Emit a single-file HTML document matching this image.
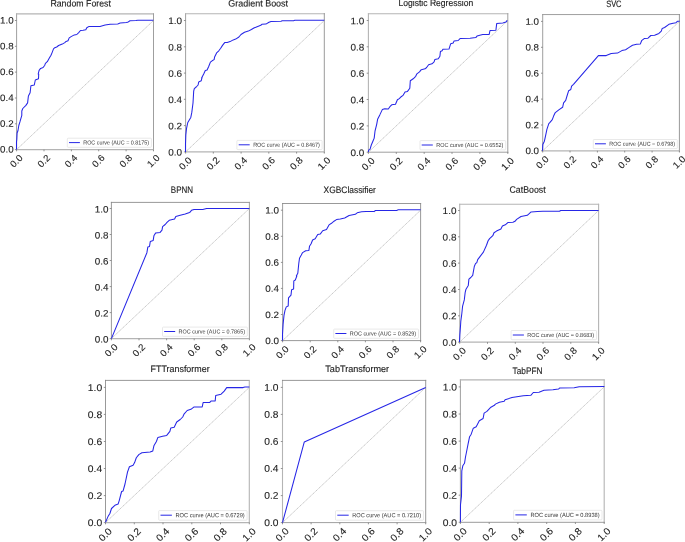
<!DOCTYPE html>
<html><head><meta charset="utf-8"><title>ROC curves</title>
<style>
html,body{margin:0;padding:0;background:#fff;}
body{width:685px;height:542px;overflow:hidden;}
svg{display:block;will-change:transform;}
text{font-family:"Liberation Sans",sans-serif;font-variant-ligatures:none;font-kerning:normal;fill:#222222;stroke:#222222;stroke-width:0.1px;}
.tt{font-size:9.30px;stroke-width:0.14px;fill:#1c1c1c;}
.lg{fill:#333;stroke:none;}
</style></head><body>
<svg width="685" height="542" viewBox="0 0 685 542" text-rendering="geometricPrecision">
<rect x="0" y="0" width="685" height="542" fill="#ffffff"/>
<g>
<text class="tt" transform="translate(50.40 6.50) rotate(0.03)" textLength="60.5" lengthAdjust="spacingAndGlyphs">Random Forest</text>
<line x1="16.6" y1="149.6" x2="153.5" y2="20.5" stroke="#8e8e8e" stroke-width="0.5" stroke-dasharray="1.5 0.5"/>
<line x1="16.60" y1="13.35" x2="16.60" y2="150.10" stroke="#9a9a9a" stroke-width="0.95"/>
<line x1="16.10" y1="13.85" x2="154.00" y2="13.85" stroke="#b4b4b4" stroke-width="1.10"/>
<line x1="153.50" y1="13.35" x2="153.50" y2="150.10" stroke="#9a9a9a" stroke-width="0.95"/>
<line x1="16.10" y1="149.60" x2="154.00" y2="149.60" stroke="#b4b4b4" stroke-width="1.10"/>
<line x1="14.9" y1="149.6" x2="16.6" y2="149.6" stroke="#7a7a7a" stroke-width="0.8"/>
<line x1="16.6" y1="149.6" x2="16.6" y2="151.3" stroke="#7a7a7a" stroke-width="0.8"/>
<text style="font-size:9.29px" transform="translate(0.11 152.58) rotate(0.03)" textLength="13.6" lengthAdjust="spacingAndGlyphs">0.0</text>
<text style="font-size:9.29px" transform="translate(16.2 160.9) rotate(-45)" x="-6.8" y="3.3" textLength="13.6" lengthAdjust="spacingAndGlyphs">0.0</text>
<line x1="14.9" y1="123.8" x2="16.6" y2="123.8" stroke="#7a7a7a" stroke-width="0.8"/>
<line x1="44.0" y1="149.6" x2="44.0" y2="151.3" stroke="#7a7a7a" stroke-width="0.8"/>
<text style="font-size:9.29px" transform="translate(0.11 126.76) rotate(0.03)" textLength="13.6" lengthAdjust="spacingAndGlyphs">0.2</text>
<text style="font-size:9.29px" transform="translate(43.6 160.9) rotate(-45)" x="-6.8" y="3.3" textLength="13.6" lengthAdjust="spacingAndGlyphs">0.2</text>
<line x1="14.9" y1="98.0" x2="16.6" y2="98.0" stroke="#7a7a7a" stroke-width="0.8"/>
<line x1="71.4" y1="149.6" x2="71.4" y2="151.3" stroke="#7a7a7a" stroke-width="0.8"/>
<text style="font-size:9.29px" transform="translate(0.11 100.94) rotate(0.03)" textLength="13.6" lengthAdjust="spacingAndGlyphs">0.4</text>
<text style="font-size:9.29px" transform="translate(71.0 160.9) rotate(-45)" x="-6.8" y="3.3" textLength="13.6" lengthAdjust="spacingAndGlyphs">0.4</text>
<line x1="14.9" y1="72.1" x2="16.6" y2="72.1" stroke="#7a7a7a" stroke-width="0.8"/>
<line x1="98.7" y1="149.6" x2="98.7" y2="151.3" stroke="#7a7a7a" stroke-width="0.8"/>
<text style="font-size:9.29px" transform="translate(0.11 75.12) rotate(0.03)" textLength="13.6" lengthAdjust="spacingAndGlyphs">0.6</text>
<text style="font-size:9.29px" transform="translate(98.3 160.9) rotate(-45)" x="-6.8" y="3.3" textLength="13.6" lengthAdjust="spacingAndGlyphs">0.6</text>
<line x1="14.9" y1="46.3" x2="16.6" y2="46.3" stroke="#7a7a7a" stroke-width="0.8"/>
<line x1="126.1" y1="149.6" x2="126.1" y2="151.3" stroke="#7a7a7a" stroke-width="0.8"/>
<text style="font-size:9.29px" transform="translate(0.11 49.30) rotate(0.03)" textLength="13.6" lengthAdjust="spacingAndGlyphs">0.8</text>
<text style="font-size:9.29px" transform="translate(125.7 160.9) rotate(-45)" x="-6.8" y="3.3" textLength="13.6" lengthAdjust="spacingAndGlyphs">0.8</text>
<line x1="14.9" y1="20.5" x2="16.6" y2="20.5" stroke="#7a7a7a" stroke-width="0.8"/>
<line x1="153.5" y1="149.6" x2="153.5" y2="151.3" stroke="#7a7a7a" stroke-width="0.8"/>
<text style="font-size:9.29px" transform="translate(0.11 23.48) rotate(0.03)" textLength="13.6" lengthAdjust="spacingAndGlyphs">1.0</text>
<text style="font-size:9.29px" transform="translate(153.1 160.9) rotate(-45)" x="-6.8" y="3.3" textLength="13.6" lengthAdjust="spacingAndGlyphs">1.0</text>
<path d="M16.5 149.6 L16.5 142.0 L16.8 139.3 L17.1 133.0 L18.0 130.5 L18.8 125.5 L20.0 121.7 L21.8 115.4 L21.8 111.0 L22.8 108.5 L25.9 105.4 L27.6 102.9 L28.4 96.0 L30.1 92.8 L30.9 85.7 L34.3 85.0 L35.3 80.0 L38.5 78.8 L38.7 74.0 L38.2 74.0 L39.1 70.3 L40.6 68.4 L43.1 67.5 L44.8 65.2 L45.4 63.4 L47.3 61.7 L49.2 58.3 L51.0 55.2 L52.3 52.1 L53.5 48.9 L54.8 47.7 L56.7 47.0 L58.6 45.5 L62.3 44.1 L64.8 42.6 L66.1 41.4 L68.0 40.8 L69.2 37.9 L71.1 36.6 L74.3 34.9 L76.8 34.5 L78.7 32.6 L80.5 30.5 L83.1 30.3 L85.8 29.8 L86.8 27.8 L88.7 26.6 L100.0 26.4 L105.1 25.1 L110.1 24.3 L117.7 24.1 L120.2 23.1 L126.5 22.6 L128.3 21.9 L130.0 20.7 L135.9 20.4 L137.8 20.2 L153.4 20.2" fill="none" stroke="#2626e6" stroke-width="1.05" stroke-linejoin="round"/>
<rect x="67.3" y="138.2" width="84.1" height="9.1" rx="0.8" fill="#ffffff" stroke="#dadada" stroke-width="0.6"/>
<line x1="69.0" y1="142.6" x2="79.9" y2="142.6" stroke="#2626e6" stroke-width="1.0"/>
<text class="lg" style="font-size:5.75px" transform="translate(83.25 144.53) rotate(0.03)" textLength="65.9" lengthAdjust="spacingAndGlyphs">ROC curve (AUC = 0.8175)</text>
</g>
<g>
<text class="tt" transform="translate(228.20 6.50) rotate(0.03)" textLength="59.9" lengthAdjust="spacingAndGlyphs">Gradient Boost</text>
<line x1="185.6" y1="151.9" x2="324.3" y2="20.5" stroke="#8e8e8e" stroke-width="0.5" stroke-dasharray="1.5 0.5"/>
<line x1="185.60" y1="13.20" x2="185.60" y2="152.40" stroke="#9a9a9a" stroke-width="0.95"/>
<line x1="185.10" y1="13.70" x2="324.80" y2="13.70" stroke="#b4b4b4" stroke-width="1.10"/>
<line x1="324.30" y1="13.20" x2="324.30" y2="152.40" stroke="#868686" stroke-width="0.85"/>
<line x1="185.10" y1="151.90" x2="324.80" y2="151.90" stroke="#b4b4b4" stroke-width="1.10"/>
<line x1="183.9" y1="151.9" x2="185.6" y2="151.9" stroke="#7a7a7a" stroke-width="0.8"/>
<line x1="185.6" y1="151.9" x2="185.6" y2="153.6" stroke="#7a7a7a" stroke-width="0.8"/>
<text style="font-size:9.42px" transform="translate(168.33 155.52) rotate(0.03)" textLength="13.8" lengthAdjust="spacingAndGlyphs">0.0</text>
<text style="font-size:9.42px" transform="translate(185.2 163.3) rotate(-45)" x="-6.9" y="3.4" textLength="13.8" lengthAdjust="spacingAndGlyphs">0.0</text>
<line x1="183.9" y1="125.6" x2="185.6" y2="125.6" stroke="#7a7a7a" stroke-width="0.8"/>
<line x1="213.3" y1="151.9" x2="213.3" y2="153.6" stroke="#7a7a7a" stroke-width="0.8"/>
<text style="font-size:9.42px" transform="translate(168.33 129.24) rotate(0.03)" textLength="13.8" lengthAdjust="spacingAndGlyphs">0.2</text>
<text style="font-size:9.42px" transform="translate(212.9 163.3) rotate(-45)" x="-6.9" y="3.4" textLength="13.8" lengthAdjust="spacingAndGlyphs">0.2</text>
<line x1="183.9" y1="99.3" x2="185.6" y2="99.3" stroke="#7a7a7a" stroke-width="0.8"/>
<line x1="241.1" y1="151.9" x2="241.1" y2="153.6" stroke="#7a7a7a" stroke-width="0.8"/>
<text style="font-size:9.42px" transform="translate(168.33 102.96) rotate(0.03)" textLength="13.8" lengthAdjust="spacingAndGlyphs">0.4</text>
<text style="font-size:9.42px" transform="translate(240.7 163.3) rotate(-45)" x="-6.9" y="3.4" textLength="13.8" lengthAdjust="spacingAndGlyphs">0.4</text>
<line x1="183.9" y1="73.1" x2="185.6" y2="73.1" stroke="#7a7a7a" stroke-width="0.8"/>
<line x1="268.8" y1="151.9" x2="268.8" y2="153.6" stroke="#7a7a7a" stroke-width="0.8"/>
<text style="font-size:9.42px" transform="translate(168.33 76.68) rotate(0.03)" textLength="13.8" lengthAdjust="spacingAndGlyphs">0.6</text>
<text style="font-size:9.42px" transform="translate(268.4 163.3) rotate(-45)" x="-6.9" y="3.4" textLength="13.8" lengthAdjust="spacingAndGlyphs">0.6</text>
<line x1="183.9" y1="46.8" x2="185.6" y2="46.8" stroke="#7a7a7a" stroke-width="0.8"/>
<line x1="296.6" y1="151.9" x2="296.6" y2="153.6" stroke="#7a7a7a" stroke-width="0.8"/>
<text style="font-size:9.42px" transform="translate(168.33 50.40) rotate(0.03)" textLength="13.8" lengthAdjust="spacingAndGlyphs">0.8</text>
<text style="font-size:9.42px" transform="translate(296.2 163.3) rotate(-45)" x="-6.9" y="3.4" textLength="13.8" lengthAdjust="spacingAndGlyphs">0.8</text>
<line x1="183.9" y1="20.5" x2="185.6" y2="20.5" stroke="#7a7a7a" stroke-width="0.8"/>
<line x1="324.3" y1="151.9" x2="324.3" y2="153.6" stroke="#7a7a7a" stroke-width="0.8"/>
<text style="font-size:9.42px" transform="translate(168.33 24.12) rotate(0.03)" textLength="13.8" lengthAdjust="spacingAndGlyphs">1.0</text>
<text style="font-size:9.42px" transform="translate(323.9 163.3) rotate(-45)" x="-6.9" y="3.4" textLength="13.8" lengthAdjust="spacingAndGlyphs">1.0</text>
<path d="M185.5 151.9 L185.5 144.0 L185.8 135.0 L186.5 128.7 L187.8 122.5 L189.3 119.9 L190.8 117.4 L191.8 112.4 L193.0 103.0 L193.7 91.1 L194.3 88.6 L196.2 87.0 L198.1 85.0 L198.7 82.0 L201.2 80.8 L202.1 77.3 L201.6 78.0 L203.7 74.0 L205.3 70.5 L207.1 70.0 L208.7 66.5 L210.4 62.1 L212.1 60.8 L214.1 59.6 L214.6 57.1 L216.6 52.9 L218.8 50.8 L220.7 48.3 L222.5 45.4 L224.7 42.6 L227.2 42.4 L230.1 41.6 L233.2 39.9 L235.7 39.1 L238.9 37.0 L241.0 34.5 L244.5 32.3 L248.3 31.1 L251.4 29.5 L253.9 28.0 L257.1 26.7 L260.8 25.3 L261.8 24.3 L265.9 24.1 L269.0 22.2 L271.0 21.4 L281.0 21.3 L282.3 20.8 L293.6 20.7 L294.8 20.2 L324.3 20.2" fill="none" stroke="#2626e6" stroke-width="1.05" stroke-linejoin="round"/>
<rect x="236.9" y="140.4" width="85.2" height="9.2" rx="0.8" fill="#ffffff" stroke="#dadada" stroke-width="0.6"/>
<line x1="238.7" y1="144.8" x2="249.7" y2="144.8" stroke="#2626e6" stroke-width="1.0"/>
<text class="lg" style="font-size:5.82px" transform="translate(253.13 146.76) rotate(0.03)" textLength="66.7" lengthAdjust="spacingAndGlyphs">ROC curve (AUC = 0.8467)</text>
</g>
<g>
<text class="tt" transform="translate(398.50 6.40) rotate(0.03)" textLength="74.7" lengthAdjust="spacingAndGlyphs">Logistic Regression</text>
<line x1="368.4" y1="152.2" x2="507.8" y2="20.5" stroke="#8e8e8e" stroke-width="0.5" stroke-dasharray="1.5 0.5"/>
<line x1="368.40" y1="13.20" x2="368.40" y2="152.70" stroke="#b4b4b4" stroke-width="1.10"/>
<line x1="367.90" y1="13.70" x2="508.30" y2="13.70" stroke="#b4b4b4" stroke-width="1.10"/>
<line x1="507.80" y1="13.20" x2="507.80" y2="152.70" stroke="#9a9a9a" stroke-width="0.95"/>
<line x1="367.90" y1="152.20" x2="508.30" y2="152.20" stroke="#9a9a9a" stroke-width="0.95"/>
<line x1="366.7" y1="152.2" x2="368.4" y2="152.2" stroke="#7a7a7a" stroke-width="0.8"/>
<line x1="368.4" y1="152.2" x2="368.4" y2="153.9" stroke="#7a7a7a" stroke-width="0.8"/>
<text style="font-size:9.46px" transform="translate(350.46 155.89) rotate(0.03)" textLength="13.8" lengthAdjust="spacingAndGlyphs">0.0</text>
<text style="font-size:9.46px" transform="translate(368.0 163.7) rotate(-45)" x="-6.9" y="3.4" textLength="13.8" lengthAdjust="spacingAndGlyphs">0.0</text>
<line x1="366.7" y1="125.9" x2="368.4" y2="125.9" stroke="#7a7a7a" stroke-width="0.8"/>
<line x1="396.3" y1="152.2" x2="396.3" y2="153.9" stroke="#7a7a7a" stroke-width="0.8"/>
<text style="font-size:9.46px" transform="translate(350.46 129.55) rotate(0.03)" textLength="13.8" lengthAdjust="spacingAndGlyphs">0.2</text>
<text style="font-size:9.46px" transform="translate(395.9 163.7) rotate(-45)" x="-6.9" y="3.4" textLength="13.8" lengthAdjust="spacingAndGlyphs">0.2</text>
<line x1="366.7" y1="99.5" x2="368.4" y2="99.5" stroke="#7a7a7a" stroke-width="0.8"/>
<line x1="424.2" y1="152.2" x2="424.2" y2="153.9" stroke="#7a7a7a" stroke-width="0.8"/>
<text style="font-size:9.46px" transform="translate(350.46 103.21) rotate(0.03)" textLength="13.8" lengthAdjust="spacingAndGlyphs">0.4</text>
<text style="font-size:9.46px" transform="translate(423.8 163.7) rotate(-45)" x="-6.9" y="3.4" textLength="13.8" lengthAdjust="spacingAndGlyphs">0.4</text>
<line x1="366.7" y1="73.2" x2="368.4" y2="73.2" stroke="#7a7a7a" stroke-width="0.8"/>
<line x1="452.0" y1="152.2" x2="452.0" y2="153.9" stroke="#7a7a7a" stroke-width="0.8"/>
<text style="font-size:9.46px" transform="translate(350.46 76.87) rotate(0.03)" textLength="13.8" lengthAdjust="spacingAndGlyphs">0.6</text>
<text style="font-size:9.46px" transform="translate(451.6 163.7) rotate(-45)" x="-6.9" y="3.4" textLength="13.8" lengthAdjust="spacingAndGlyphs">0.6</text>
<line x1="366.7" y1="46.8" x2="368.4" y2="46.8" stroke="#7a7a7a" stroke-width="0.8"/>
<line x1="479.9" y1="152.2" x2="479.9" y2="153.9" stroke="#7a7a7a" stroke-width="0.8"/>
<text style="font-size:9.46px" transform="translate(350.46 50.53) rotate(0.03)" textLength="13.8" lengthAdjust="spacingAndGlyphs">0.8</text>
<text style="font-size:9.46px" transform="translate(479.5 163.7) rotate(-45)" x="-6.9" y="3.4" textLength="13.8" lengthAdjust="spacingAndGlyphs">0.8</text>
<line x1="366.7" y1="20.5" x2="368.4" y2="20.5" stroke="#7a7a7a" stroke-width="0.8"/>
<line x1="507.8" y1="152.2" x2="507.8" y2="153.9" stroke="#7a7a7a" stroke-width="0.8"/>
<text style="font-size:9.46px" transform="translate(350.46 24.19) rotate(0.03)" textLength="13.8" lengthAdjust="spacingAndGlyphs">1.0</text>
<text style="font-size:9.46px" transform="translate(507.4 163.7) rotate(-45)" x="-6.9" y="3.4" textLength="13.8" lengthAdjust="spacingAndGlyphs">1.0</text>
<path d="M368.3 151.9 L368.8 150.0 L370.0 149.4 L371.3 145.0 L372.9 141.2 L374.2 138.1 L375.0 131.2 L376.7 124.3 L377.6 119.3 L379.8 114.9 L382.3 109.6 L384.8 108.8 L388.3 109.0 L389.9 106.7 L391.7 104.8 L395.5 104.2 L397.4 99.8 L399.3 98.6 L401.2 96.7 L403.0 95.4 L405.0 92.0 L407.5 91.4 L409.8 88.3 L410.3 80.7 L413.2 78.8 L415.7 76.3 L416.9 73.8 L419.5 71.9 L421.3 69.7 L425.1 68.8 L426.6 67.5 L428.6 64.7 L432.0 63.8 L434.1 61.9 L434.9 59.4 L438.3 58.8 L439.9 56.2 L440.4 51.6 L442.1 50.8 L442.9 49.3 L449.0 49.1 L450.7 43.7 L453.2 43.0 L454.1 40.9 L458.2 40.5 L460.3 38.4 L470.1 38.3 L475.8 37.6 L477.0 36.1 L482.7 34.6 L489.2 34.4 L490.0 30.5 L495.9 30.2 L496.7 23.6 L502.8 22.9 L505.9 22.1 L507.2 20.4" fill="none" stroke="#2626e6" stroke-width="1.05" stroke-linejoin="round"/>
<rect x="420.0" y="140.6" width="85.7" height="9.3" rx="0.8" fill="#ffffff" stroke="#dadada" stroke-width="0.6"/>
<line x1="421.7" y1="145.0" x2="432.8" y2="145.0" stroke="#2626e6" stroke-width="1.0"/>
<text class="lg" style="font-size:5.85px" transform="translate(436.27 147.03) rotate(0.03)" textLength="67.1" lengthAdjust="spacingAndGlyphs">ROC curve (AUC = 0.6552)</text>
</g>
<g>
<text class="tt" transform="translate(606.20 6.70) rotate(0.03)" textLength="15.3" lengthAdjust="spacingAndGlyphs">SVC</text>
<line x1="542.7" y1="150.8" x2="679.4" y2="21.4" stroke="#8e8e8e" stroke-width="0.5" stroke-dasharray="1.5 0.5"/>
<line x1="542.70" y1="14.05" x2="542.70" y2="151.35" stroke="#9a9a9a" stroke-width="0.95"/>
<line x1="542.20" y1="14.55" x2="679.90" y2="14.55" stroke="#9a9a9a" stroke-width="0.95"/>
<line x1="679.40" y1="14.05" x2="679.40" y2="151.35" stroke="#868686" stroke-width="0.85"/>
<line x1="542.20" y1="150.85" x2="679.90" y2="150.85" stroke="#b4b4b4" stroke-width="1.10"/>
<line x1="541.0" y1="150.8" x2="542.7" y2="150.8" stroke="#7a7a7a" stroke-width="0.8"/>
<line x1="542.7" y1="150.8" x2="542.7" y2="152.5" stroke="#7a7a7a" stroke-width="0.8"/>
<text style="font-size:9.28px" transform="translate(525.43 154.12) rotate(0.03)" textLength="13.6" lengthAdjust="spacingAndGlyphs">0.0</text>
<text style="font-size:9.28px" transform="translate(542.3 162.1) rotate(-45)" x="-6.8" y="3.3" textLength="13.6" lengthAdjust="spacingAndGlyphs">0.0</text>
<line x1="541.0" y1="125.0" x2="542.7" y2="125.0" stroke="#7a7a7a" stroke-width="0.8"/>
<line x1="570.0" y1="150.8" x2="570.0" y2="152.5" stroke="#7a7a7a" stroke-width="0.8"/>
<text style="font-size:9.28px" transform="translate(525.43 128.23) rotate(0.03)" textLength="13.6" lengthAdjust="spacingAndGlyphs">0.2</text>
<text style="font-size:9.28px" transform="translate(569.6 162.1) rotate(-45)" x="-6.8" y="3.3" textLength="13.6" lengthAdjust="spacingAndGlyphs">0.2</text>
<line x1="541.0" y1="99.1" x2="542.7" y2="99.1" stroke="#7a7a7a" stroke-width="0.8"/>
<line x1="597.4" y1="150.8" x2="597.4" y2="152.5" stroke="#7a7a7a" stroke-width="0.8"/>
<text style="font-size:9.28px" transform="translate(525.43 102.34) rotate(0.03)" textLength="13.6" lengthAdjust="spacingAndGlyphs">0.4</text>
<text style="font-size:9.28px" transform="translate(597.0 162.1) rotate(-45)" x="-6.8" y="3.3" textLength="13.6" lengthAdjust="spacingAndGlyphs">0.4</text>
<line x1="541.0" y1="73.2" x2="542.7" y2="73.2" stroke="#7a7a7a" stroke-width="0.8"/>
<line x1="624.7" y1="150.8" x2="624.7" y2="152.5" stroke="#7a7a7a" stroke-width="0.8"/>
<text style="font-size:9.28px" transform="translate(525.43 76.45) rotate(0.03)" textLength="13.6" lengthAdjust="spacingAndGlyphs">0.6</text>
<text style="font-size:9.28px" transform="translate(624.3 162.1) rotate(-45)" x="-6.8" y="3.3" textLength="13.6" lengthAdjust="spacingAndGlyphs">0.6</text>
<line x1="541.0" y1="47.3" x2="542.7" y2="47.3" stroke="#7a7a7a" stroke-width="0.8"/>
<line x1="652.1" y1="150.8" x2="652.1" y2="152.5" stroke="#7a7a7a" stroke-width="0.8"/>
<text style="font-size:9.28px" transform="translate(525.43 50.56) rotate(0.03)" textLength="13.6" lengthAdjust="spacingAndGlyphs">0.8</text>
<text style="font-size:9.28px" transform="translate(651.7 162.1) rotate(-45)" x="-6.8" y="3.3" textLength="13.6" lengthAdjust="spacingAndGlyphs">0.8</text>
<line x1="541.0" y1="21.4" x2="542.7" y2="21.4" stroke="#7a7a7a" stroke-width="0.8"/>
<line x1="679.4" y1="150.8" x2="679.4" y2="152.5" stroke="#7a7a7a" stroke-width="0.8"/>
<text style="font-size:9.28px" transform="translate(525.43 24.67) rotate(0.03)" textLength="13.6" lengthAdjust="spacingAndGlyphs">1.0</text>
<text style="font-size:9.28px" transform="translate(679.0 162.1) rotate(-45)" x="-6.8" y="3.3" textLength="13.6" lengthAdjust="spacingAndGlyphs">1.0</text>
<path d="M542.5 150.7 L542.8 144.4 L544.4 141.2 L545.6 135.6 L546.9 129.3 L548.8 123.7 L550.0 122.4 L552.3 119.6 L553.6 116.1 L555.3 112.6 L558.8 109.9 L562.6 107.3 L563.6 102.9 L565.7 100.4 L567.0 96.0 L568.6 90.8 L570.8 89.5 L571.6 86.1 L573.5 84.3 L598.4 55.6 L606.2 55.6 L611.2 53.6 L617.5 53.1 L621.9 50.6 L625.6 49.7 L628.8 47.6 L632.5 45.3 L636.6 44.2 L640.4 43.9 L641.6 40.7 L644.2 38.6 L648.0 38.2 L650.8 35.5 L654.6 35.3 L658.9 33.4 L661.3 31.2 L662.2 28.4 L664.6 27.5 L668.9 24.3 L673.1 23.2 L676.0 22.7 L677.4 21.3 L679.6 21.3" fill="none" stroke="#2626e6" stroke-width="1.05" stroke-linejoin="round"/>
<rect x="593.3" y="139.5" width="84.0" height="9.1" rx="0.8" fill="#ffffff" stroke="#dadada" stroke-width="0.6"/>
<line x1="595.0" y1="143.8" x2="605.9" y2="143.8" stroke="#2626e6" stroke-width="1.0"/>
<text class="lg" style="font-size:5.74px" transform="translate(609.25 145.78) rotate(0.03)" textLength="65.8" lengthAdjust="spacingAndGlyphs">ROC curve (AUC = 0.6798)</text>
</g>
<g>
<text class="tt" transform="translate(170.80 192.50) rotate(0.03)" textLength="22.2" lengthAdjust="spacingAndGlyphs">BPNN</text>
<line x1="111.4" y1="338.6" x2="249.4" y2="208.5" stroke="#8e8e8e" stroke-width="0.5" stroke-dasharray="1.5 0.5"/>
<line x1="111.40" y1="201.90" x2="111.40" y2="339.10" stroke="#868686" stroke-width="0.85"/>
<line x1="110.90" y1="202.40" x2="249.90" y2="202.40" stroke="#868686" stroke-width="0.85"/>
<line x1="249.40" y1="201.90" x2="249.40" y2="339.10" stroke="#9a9a9a" stroke-width="0.95"/>
<line x1="110.90" y1="338.60" x2="249.90" y2="338.60" stroke="#b4b4b4" stroke-width="1.10"/>
<line x1="109.7" y1="338.6" x2="111.4" y2="338.6" stroke="#7a7a7a" stroke-width="0.8"/>
<line x1="111.4" y1="338.6" x2="111.4" y2="340.3" stroke="#7a7a7a" stroke-width="0.8"/>
<text style="font-size:9.37px" transform="translate(94.80 342.55) rotate(0.03)" textLength="13.7" lengthAdjust="spacingAndGlyphs">0.0</text>
<text style="font-size:9.37px" transform="translate(111.0 350.0) rotate(-45)" x="-6.8" y="3.4" textLength="13.7" lengthAdjust="spacingAndGlyphs">0.0</text>
<line x1="109.7" y1="312.6" x2="111.4" y2="312.6" stroke="#7a7a7a" stroke-width="0.8"/>
<line x1="139.0" y1="338.6" x2="139.0" y2="340.3" stroke="#7a7a7a" stroke-width="0.8"/>
<text style="font-size:9.37px" transform="translate(94.80 316.53) rotate(0.03)" textLength="13.7" lengthAdjust="spacingAndGlyphs">0.2</text>
<text style="font-size:9.37px" transform="translate(138.6 350.0) rotate(-45)" x="-6.8" y="3.4" textLength="13.7" lengthAdjust="spacingAndGlyphs">0.2</text>
<line x1="109.7" y1="286.6" x2="111.4" y2="286.6" stroke="#7a7a7a" stroke-width="0.8"/>
<line x1="166.6" y1="338.6" x2="166.6" y2="340.3" stroke="#7a7a7a" stroke-width="0.8"/>
<text style="font-size:9.37px" transform="translate(94.80 290.51) rotate(0.03)" textLength="13.7" lengthAdjust="spacingAndGlyphs">0.4</text>
<text style="font-size:9.37px" transform="translate(166.2 350.0) rotate(-45)" x="-6.8" y="3.4" textLength="13.7" lengthAdjust="spacingAndGlyphs">0.4</text>
<line x1="109.7" y1="260.5" x2="111.4" y2="260.5" stroke="#7a7a7a" stroke-width="0.8"/>
<line x1="194.2" y1="338.6" x2="194.2" y2="340.3" stroke="#7a7a7a" stroke-width="0.8"/>
<text style="font-size:9.37px" transform="translate(94.80 264.49) rotate(0.03)" textLength="13.7" lengthAdjust="spacingAndGlyphs">0.6</text>
<text style="font-size:9.37px" transform="translate(193.8 350.0) rotate(-45)" x="-6.8" y="3.4" textLength="13.7" lengthAdjust="spacingAndGlyphs">0.6</text>
<line x1="109.7" y1="234.5" x2="111.4" y2="234.5" stroke="#7a7a7a" stroke-width="0.8"/>
<line x1="221.8" y1="338.6" x2="221.8" y2="340.3" stroke="#7a7a7a" stroke-width="0.8"/>
<text style="font-size:9.37px" transform="translate(94.80 238.47) rotate(0.03)" textLength="13.7" lengthAdjust="spacingAndGlyphs">0.8</text>
<text style="font-size:9.37px" transform="translate(221.4 350.0) rotate(-45)" x="-6.8" y="3.4" textLength="13.7" lengthAdjust="spacingAndGlyphs">0.8</text>
<line x1="109.7" y1="208.5" x2="111.4" y2="208.5" stroke="#7a7a7a" stroke-width="0.8"/>
<line x1="249.4" y1="338.6" x2="249.4" y2="340.3" stroke="#7a7a7a" stroke-width="0.8"/>
<text style="font-size:9.37px" transform="translate(94.80 212.45) rotate(0.03)" textLength="13.7" lengthAdjust="spacingAndGlyphs">1.0</text>
<text style="font-size:9.37px" transform="translate(249.0 350.0) rotate(-45)" x="-6.8" y="3.4" textLength="13.7" lengthAdjust="spacingAndGlyphs">1.0</text>
<path d="M111.4 338.6 L146.9 252.7 L147.8 247.1 L149.5 246.5 L150.3 241.4 L153.2 240.4 L153.9 235.8 L155.7 232.9 L160.1 232.4 L162.0 230.1 L162.6 226.6 L165.2 224.5 L167.0 222.3 L169.2 220.3 L174.6 219.1 L175.8 216.6 L180.2 215.3 L185.2 214.1 L189.6 212.6 L191.5 210.3 L194.0 209.5 L202.8 209.5 L206.6 208.5 L216.0 208.5 L249.4 208.5" fill="none" stroke="#2626e6" stroke-width="1.05" stroke-linejoin="round"/>
<rect x="162.5" y="327.1" width="84.8" height="9.2" rx="0.8" fill="#ffffff" stroke="#dadada" stroke-width="0.6"/>
<line x1="164.2" y1="331.5" x2="175.2" y2="331.5" stroke="#2626e6" stroke-width="1.0"/>
<text class="lg" style="font-size:5.79px" transform="translate(178.59 333.49) rotate(0.03)" textLength="66.4" lengthAdjust="spacingAndGlyphs">ROC curve (AUC = 0.7865)</text>
</g>
<g>
<text class="tt" transform="translate(323.60 192.50) rotate(0.03)" textLength="52.3" lengthAdjust="spacingAndGlyphs">XGBClassifier</text>
<line x1="282.6" y1="340.6" x2="420.6" y2="210.2" stroke="#8e8e8e" stroke-width="0.5" stroke-dasharray="1.5 0.5"/>
<line x1="282.60" y1="203.00" x2="282.60" y2="341.10" stroke="#9a9a9a" stroke-width="0.95"/>
<line x1="282.10" y1="203.50" x2="421.10" y2="203.50" stroke="#868686" stroke-width="0.85"/>
<line x1="420.60" y1="203.00" x2="420.60" y2="341.10" stroke="#868686" stroke-width="0.85"/>
<line x1="282.10" y1="340.60" x2="421.10" y2="340.60" stroke="#868686" stroke-width="0.85"/>
<line x1="280.9" y1="340.6" x2="282.6" y2="340.6" stroke="#7a7a7a" stroke-width="0.8"/>
<line x1="282.6" y1="340.6" x2="282.6" y2="342.3" stroke="#7a7a7a" stroke-width="0.8"/>
<text style="font-size:9.37px" transform="translate(265.30 344.00) rotate(0.03)" textLength="13.7" lengthAdjust="spacingAndGlyphs">0.0</text>
<text style="font-size:9.37px" transform="translate(282.2 352.0) rotate(-45)" x="-6.8" y="3.4" textLength="13.7" lengthAdjust="spacingAndGlyphs">0.0</text>
<line x1="280.9" y1="314.5" x2="282.6" y2="314.5" stroke="#7a7a7a" stroke-width="0.8"/>
<line x1="310.2" y1="340.6" x2="310.2" y2="342.3" stroke="#7a7a7a" stroke-width="0.8"/>
<text style="font-size:9.37px" transform="translate(265.30 317.92) rotate(0.03)" textLength="13.7" lengthAdjust="spacingAndGlyphs">0.2</text>
<text style="font-size:9.37px" transform="translate(309.8 352.0) rotate(-45)" x="-6.8" y="3.4" textLength="13.7" lengthAdjust="spacingAndGlyphs">0.2</text>
<line x1="280.9" y1="288.4" x2="282.6" y2="288.4" stroke="#7a7a7a" stroke-width="0.8"/>
<line x1="337.8" y1="340.6" x2="337.8" y2="342.3" stroke="#7a7a7a" stroke-width="0.8"/>
<text style="font-size:9.37px" transform="translate(265.30 291.84) rotate(0.03)" textLength="13.7" lengthAdjust="spacingAndGlyphs">0.4</text>
<text style="font-size:9.37px" transform="translate(337.4 352.0) rotate(-45)" x="-6.8" y="3.4" textLength="13.7" lengthAdjust="spacingAndGlyphs">0.4</text>
<line x1="280.9" y1="262.4" x2="282.6" y2="262.4" stroke="#7a7a7a" stroke-width="0.8"/>
<line x1="365.4" y1="340.6" x2="365.4" y2="342.3" stroke="#7a7a7a" stroke-width="0.8"/>
<text style="font-size:9.37px" transform="translate(265.30 265.76) rotate(0.03)" textLength="13.7" lengthAdjust="spacingAndGlyphs">0.6</text>
<text style="font-size:9.37px" transform="translate(365.0 352.0) rotate(-45)" x="-6.8" y="3.4" textLength="13.7" lengthAdjust="spacingAndGlyphs">0.6</text>
<line x1="280.9" y1="236.3" x2="282.6" y2="236.3" stroke="#7a7a7a" stroke-width="0.8"/>
<line x1="393.0" y1="340.6" x2="393.0" y2="342.3" stroke="#7a7a7a" stroke-width="0.8"/>
<text style="font-size:9.37px" transform="translate(265.30 239.68) rotate(0.03)" textLength="13.7" lengthAdjust="spacingAndGlyphs">0.8</text>
<text style="font-size:9.37px" transform="translate(392.6 352.0) rotate(-45)" x="-6.8" y="3.4" textLength="13.7" lengthAdjust="spacingAndGlyphs">0.8</text>
<line x1="280.9" y1="210.2" x2="282.6" y2="210.2" stroke="#7a7a7a" stroke-width="0.8"/>
<line x1="420.6" y1="340.6" x2="420.6" y2="342.3" stroke="#7a7a7a" stroke-width="0.8"/>
<text style="font-size:9.37px" transform="translate(265.30 213.60) rotate(0.03)" textLength="13.7" lengthAdjust="spacingAndGlyphs">1.0</text>
<text style="font-size:9.37px" transform="translate(420.2 352.0) rotate(-45)" x="-6.8" y="3.4" textLength="13.7" lengthAdjust="spacingAndGlyphs">1.0</text>
<path d="M282.5 340.5 L282.5 334.3 L283.1 324.2 L284.0 315.4 L285.0 310.4 L286.3 306.9 L288.2 306.0 L288.5 297.9 L291.0 295.1 L291.6 289.7 L293.6 289.1 L293.8 280.9 L295.3 280.0 L296.9 275.9 L296.3 276.0 L297.8 273.3 L298.8 263.2 L299.5 258.2 L301.3 255.1 L302.6 252.6 L305.7 250.7 L308.9 250.4 L309.5 246.3 L311.1 243.8 L312.6 240.0 L315.2 238.8 L317.7 234.6 L320.2 234.1 L322.7 230.8 L326.5 229.6 L329.0 224.9 L331.5 223.3 L334.0 221.2 L336.5 219.6 L340.3 219.0 L344.7 218.0 L349.1 215.5 L355.3 214.3 L357.2 212.8 L361.6 211.8 L366.0 211.5 L374.1 211.6 L375.4 210.5 L396.7 210.4 L398.2 209.8 L420.6 209.8" fill="none" stroke="#2626e6" stroke-width="1.05" stroke-linejoin="round"/>
<rect x="333.7" y="329.1" width="84.8" height="9.2" rx="0.8" fill="#ffffff" stroke="#dadada" stroke-width="0.6"/>
<line x1="335.4" y1="333.5" x2="346.4" y2="333.5" stroke="#2626e6" stroke-width="1.0"/>
<text class="lg" style="font-size:5.79px" transform="translate(349.79 335.49) rotate(0.03)" textLength="66.4" lengthAdjust="spacingAndGlyphs">ROC curve (AUC = 0.8529)</text>
</g>
<g>
<text class="tt" transform="translate(509.50 192.80) rotate(0.03)" textLength="36.1" lengthAdjust="spacingAndGlyphs">CatBoost</text>
<line x1="459.7" y1="342.1" x2="598.6" y2="210.5" stroke="#8e8e8e" stroke-width="0.5" stroke-dasharray="1.5 0.5"/>
<line x1="459.70" y1="203.80" x2="459.70" y2="342.60" stroke="#b4b4b4" stroke-width="1.10"/>
<line x1="459.20" y1="204.30" x2="599.10" y2="204.30" stroke="#b4b4b4" stroke-width="1.10"/>
<line x1="598.60" y1="203.80" x2="598.60" y2="342.60" stroke="#b4b4b4" stroke-width="1.10"/>
<line x1="459.20" y1="342.10" x2="599.10" y2="342.10" stroke="#b4b4b4" stroke-width="1.10"/>
<line x1="458.0" y1="342.1" x2="459.7" y2="342.1" stroke="#7a7a7a" stroke-width="0.8"/>
<line x1="459.7" y1="342.1" x2="459.7" y2="343.8" stroke="#7a7a7a" stroke-width="0.8"/>
<text style="font-size:9.43px" transform="translate(442.61 345.68) rotate(0.03)" textLength="13.8" lengthAdjust="spacingAndGlyphs">0.0</text>
<text style="font-size:9.43px" transform="translate(459.3 353.6) rotate(-45)" x="-6.9" y="3.4" textLength="13.8" lengthAdjust="spacingAndGlyphs">0.0</text>
<line x1="458.0" y1="315.8" x2="459.7" y2="315.8" stroke="#7a7a7a" stroke-width="0.8"/>
<line x1="487.5" y1="342.1" x2="487.5" y2="343.8" stroke="#7a7a7a" stroke-width="0.8"/>
<text style="font-size:9.43px" transform="translate(442.61 319.36) rotate(0.03)" textLength="13.8" lengthAdjust="spacingAndGlyphs">0.2</text>
<text style="font-size:9.43px" transform="translate(487.1 353.6) rotate(-45)" x="-6.9" y="3.4" textLength="13.8" lengthAdjust="spacingAndGlyphs">0.2</text>
<line x1="458.0" y1="289.5" x2="459.7" y2="289.5" stroke="#7a7a7a" stroke-width="0.8"/>
<line x1="515.3" y1="342.1" x2="515.3" y2="343.8" stroke="#7a7a7a" stroke-width="0.8"/>
<text style="font-size:9.43px" transform="translate(442.61 293.04) rotate(0.03)" textLength="13.8" lengthAdjust="spacingAndGlyphs">0.4</text>
<text style="font-size:9.43px" transform="translate(514.9 353.6) rotate(-45)" x="-6.9" y="3.4" textLength="13.8" lengthAdjust="spacingAndGlyphs">0.4</text>
<line x1="458.0" y1="263.1" x2="459.7" y2="263.1" stroke="#7a7a7a" stroke-width="0.8"/>
<line x1="543.0" y1="342.1" x2="543.0" y2="343.8" stroke="#7a7a7a" stroke-width="0.8"/>
<text style="font-size:9.43px" transform="translate(442.61 266.72) rotate(0.03)" textLength="13.8" lengthAdjust="spacingAndGlyphs">0.6</text>
<text style="font-size:9.43px" transform="translate(542.6 353.6) rotate(-45)" x="-6.9" y="3.4" textLength="13.8" lengthAdjust="spacingAndGlyphs">0.6</text>
<line x1="458.0" y1="236.8" x2="459.7" y2="236.8" stroke="#7a7a7a" stroke-width="0.8"/>
<line x1="570.8" y1="342.1" x2="570.8" y2="343.8" stroke="#7a7a7a" stroke-width="0.8"/>
<text style="font-size:9.43px" transform="translate(442.61 240.40) rotate(0.03)" textLength="13.8" lengthAdjust="spacingAndGlyphs">0.8</text>
<text style="font-size:9.43px" transform="translate(570.4 353.6) rotate(-45)" x="-6.9" y="3.4" textLength="13.8" lengthAdjust="spacingAndGlyphs">0.8</text>
<line x1="458.0" y1="210.5" x2="459.7" y2="210.5" stroke="#7a7a7a" stroke-width="0.8"/>
<line x1="598.6" y1="342.1" x2="598.6" y2="343.8" stroke="#7a7a7a" stroke-width="0.8"/>
<text style="font-size:9.43px" transform="translate(442.61 214.08) rotate(0.03)" textLength="13.8" lengthAdjust="spacingAndGlyphs">1.0</text>
<text style="font-size:9.43px" transform="translate(598.2 353.6) rotate(-45)" x="-6.9" y="3.4" textLength="13.8" lengthAdjust="spacingAndGlyphs">1.0</text>
<path d="M459.5 341.9 L459.8 335.0 L460.5 326.2 L460.8 321.2 L461.8 313.7 L462.6 306.1 L464.3 299.9 L465.2 292.3 L466.0 289.2 L468.3 285.4 L468.9 279.1 L470.8 277.5 L472.7 275.3 L474.3 266.5 L475.6 263.4 L476.8 262.7 L477.7 259.6 L479.6 257.1 L483.4 252.1 L486.5 245.2 L488.1 240.8 L489.6 238.6 L492.8 235.7 L494.0 232.8 L496.5 231.1 L500.9 229.1 L502.4 226.1 L505.3 224.8 L507.8 222.6 L512.9 222.3 L515.0 221.3 L516.6 219.4 L521.0 216.5 L527.3 215.3 L531.1 211.9 L537.4 211.5 L543.0 211.3 L559.5 211.3 L560.7 210.5 L598.6 210.5" fill="none" stroke="#2626e6" stroke-width="1.05" stroke-linejoin="round"/>
<rect x="511.1" y="330.5" width="85.4" height="9.2" rx="0.8" fill="#ffffff" stroke="#dadada" stroke-width="0.6"/>
<line x1="512.8" y1="335.0" x2="523.9" y2="335.0" stroke="#2626e6" stroke-width="1.0"/>
<text class="lg" style="font-size:5.83px" transform="translate(527.33 336.95) rotate(0.03)" textLength="66.8" lengthAdjust="spacingAndGlyphs">ROC curve (AUC = 0.8683)</text>
</g>
<g>
<text class="tt" transform="translate(150.60 372.00) rotate(0.03)" textLength="59.0" lengthAdjust="spacingAndGlyphs">FTTransformer</text>
<line x1="105.5" y1="522.6" x2="249.3" y2="387.4" stroke="#8e8e8e" stroke-width="0.5" stroke-dasharray="1.5 0.5"/>
<line x1="105.50" y1="379.90" x2="105.50" y2="523.10" stroke="#868686" stroke-width="0.85"/>
<line x1="105.00" y1="380.40" x2="249.80" y2="380.40" stroke="#868686" stroke-width="0.85"/>
<line x1="249.30" y1="379.90" x2="249.30" y2="523.10" stroke="#b4b4b4" stroke-width="1.10"/>
<line x1="105.00" y1="522.60" x2="249.80" y2="522.60" stroke="#b4b4b4" stroke-width="1.10"/>
<line x1="103.8" y1="522.6" x2="105.5" y2="522.6" stroke="#7a7a7a" stroke-width="0.8"/>
<line x1="105.5" y1="522.6" x2="105.5" y2="524.3" stroke="#7a7a7a" stroke-width="0.8"/>
<text style="font-size:9.76px" transform="translate(87.82 526.09) rotate(0.03)" textLength="14.3" lengthAdjust="spacingAndGlyphs">0.0</text>
<text style="font-size:9.76px" transform="translate(105.1 534.5) rotate(-45)" x="-7.1" y="3.5" textLength="14.3" lengthAdjust="spacingAndGlyphs">0.0</text>
<line x1="103.8" y1="495.6" x2="105.5" y2="495.6" stroke="#7a7a7a" stroke-width="0.8"/>
<line x1="134.3" y1="522.6" x2="134.3" y2="524.3" stroke="#7a7a7a" stroke-width="0.8"/>
<text style="font-size:9.76px" transform="translate(87.82 499.05) rotate(0.03)" textLength="14.3" lengthAdjust="spacingAndGlyphs">0.2</text>
<text style="font-size:9.76px" transform="translate(133.9 534.5) rotate(-45)" x="-7.1" y="3.5" textLength="14.3" lengthAdjust="spacingAndGlyphs">0.2</text>
<line x1="103.8" y1="468.5" x2="105.5" y2="468.5" stroke="#7a7a7a" stroke-width="0.8"/>
<line x1="163.0" y1="522.6" x2="163.0" y2="524.3" stroke="#7a7a7a" stroke-width="0.8"/>
<text style="font-size:9.76px" transform="translate(87.82 472.01) rotate(0.03)" textLength="14.3" lengthAdjust="spacingAndGlyphs">0.4</text>
<text style="font-size:9.76px" transform="translate(162.6 534.5) rotate(-45)" x="-7.1" y="3.5" textLength="14.3" lengthAdjust="spacingAndGlyphs">0.4</text>
<line x1="103.8" y1="441.5" x2="105.5" y2="441.5" stroke="#7a7a7a" stroke-width="0.8"/>
<line x1="191.8" y1="522.6" x2="191.8" y2="524.3" stroke="#7a7a7a" stroke-width="0.8"/>
<text style="font-size:9.76px" transform="translate(87.82 444.97) rotate(0.03)" textLength="14.3" lengthAdjust="spacingAndGlyphs">0.6</text>
<text style="font-size:9.76px" transform="translate(191.4 534.5) rotate(-45)" x="-7.1" y="3.5" textLength="14.3" lengthAdjust="spacingAndGlyphs">0.6</text>
<line x1="103.8" y1="414.4" x2="105.5" y2="414.4" stroke="#7a7a7a" stroke-width="0.8"/>
<line x1="220.5" y1="522.6" x2="220.5" y2="524.3" stroke="#7a7a7a" stroke-width="0.8"/>
<text style="font-size:9.76px" transform="translate(87.82 417.93) rotate(0.03)" textLength="14.3" lengthAdjust="spacingAndGlyphs">0.8</text>
<text style="font-size:9.76px" transform="translate(220.1 534.5) rotate(-45)" x="-7.1" y="3.5" textLength="14.3" lengthAdjust="spacingAndGlyphs">0.8</text>
<line x1="103.8" y1="387.4" x2="105.5" y2="387.4" stroke="#7a7a7a" stroke-width="0.8"/>
<line x1="249.3" y1="522.6" x2="249.3" y2="524.3" stroke="#7a7a7a" stroke-width="0.8"/>
<text style="font-size:9.76px" transform="translate(87.82 390.89) rotate(0.03)" textLength="14.3" lengthAdjust="spacingAndGlyphs">1.0</text>
<text style="font-size:9.76px" transform="translate(248.9 534.5) rotate(-45)" x="-7.1" y="3.5" textLength="14.3" lengthAdjust="spacingAndGlyphs">1.0</text>
<path d="M105.5 522.3 L108.0 516.6 L109.9 513.5 L111.5 508.5 L114.9 505.3 L118.1 504.1 L119.3 500.3 L121.6 491.5 L123.1 490.9 L125.0 484.0 L127.5 472.1 L129.4 466.8 L133.1 465.2 L134.6 462.6 L136.3 457.8 L138.8 454.6 L141.9 452.8 L150.1 452.1 L152.8 450.9 L153.9 445.8 L156.4 441.5 L157.9 437.4 L162.6 436.2 L166.7 435.4 L169.9 431.4 L170.8 427.9 L174.2 427.3 L176.7 422.0 L180.2 419.5 L182.7 417.0 L184.2 413.8 L187.2 410.5 L190.9 409.3 L193.8 407.1 L202.2 407.0 L203.1 402.6 L209.8 402.4 L211.0 401.1 L215.2 400.9 L215.7 395.5 L221.1 394.2 L224.2 391.1 L226.7 387.6 L243.1 387.6 L244.9 387.0 L249.3 387.0" fill="none" stroke="#2626e6" stroke-width="1.05" stroke-linejoin="round"/>
<rect x="158.7" y="510.6" width="88.4" height="9.6" rx="0.8" fill="#ffffff" stroke="#dadada" stroke-width="0.6"/>
<line x1="160.5" y1="515.2" x2="171.9" y2="515.2" stroke="#2626e6" stroke-width="1.0"/>
<text class="lg" style="font-size:6.04px" transform="translate(175.51 517.27) rotate(0.03)" textLength="69.2" lengthAdjust="spacingAndGlyphs">ROC curve (AUC = 0.6729)</text>
</g>
<g>
<text class="tt" transform="translate(325.30 372.00) rotate(0.03)" textLength="63.8" lengthAdjust="spacingAndGlyphs">TabTransformer</text>
<line x1="282.5" y1="522.6" x2="425.7" y2="387.4" stroke="#8e8e8e" stroke-width="0.5" stroke-dasharray="1.5 0.5"/>
<line x1="282.50" y1="379.90" x2="282.50" y2="523.10" stroke="#b4b4b4" stroke-width="1.10"/>
<line x1="282.00" y1="380.40" x2="426.20" y2="380.40" stroke="#868686" stroke-width="0.85"/>
<line x1="425.70" y1="379.90" x2="425.70" y2="523.10" stroke="#868686" stroke-width="0.85"/>
<line x1="282.00" y1="522.60" x2="426.20" y2="522.60" stroke="#9a9a9a" stroke-width="0.95"/>
<line x1="280.8" y1="522.6" x2="282.5" y2="522.6" stroke="#7a7a7a" stroke-width="0.8"/>
<line x1="282.5" y1="522.6" x2="282.5" y2="524.3" stroke="#7a7a7a" stroke-width="0.8"/>
<text style="font-size:9.72px" transform="translate(264.28 525.88) rotate(0.03)" textLength="14.2" lengthAdjust="spacingAndGlyphs">0.0</text>
<text style="font-size:9.72px" transform="translate(282.1 534.4) rotate(-45)" x="-7.1" y="3.5" textLength="14.2" lengthAdjust="spacingAndGlyphs">0.0</text>
<line x1="280.8" y1="495.6" x2="282.5" y2="495.6" stroke="#7a7a7a" stroke-width="0.8"/>
<line x1="311.1" y1="522.6" x2="311.1" y2="524.3" stroke="#7a7a7a" stroke-width="0.8"/>
<text style="font-size:9.72px" transform="translate(264.28 498.84) rotate(0.03)" textLength="14.2" lengthAdjust="spacingAndGlyphs">0.2</text>
<text style="font-size:9.72px" transform="translate(310.7 534.4) rotate(-45)" x="-7.1" y="3.5" textLength="14.2" lengthAdjust="spacingAndGlyphs">0.2</text>
<line x1="280.8" y1="468.5" x2="282.5" y2="468.5" stroke="#7a7a7a" stroke-width="0.8"/>
<line x1="339.8" y1="522.6" x2="339.8" y2="524.3" stroke="#7a7a7a" stroke-width="0.8"/>
<text style="font-size:9.72px" transform="translate(264.28 471.80) rotate(0.03)" textLength="14.2" lengthAdjust="spacingAndGlyphs">0.4</text>
<text style="font-size:9.72px" transform="translate(339.4 534.4) rotate(-45)" x="-7.1" y="3.5" textLength="14.2" lengthAdjust="spacingAndGlyphs">0.4</text>
<line x1="280.8" y1="441.5" x2="282.5" y2="441.5" stroke="#7a7a7a" stroke-width="0.8"/>
<line x1="368.4" y1="522.6" x2="368.4" y2="524.3" stroke="#7a7a7a" stroke-width="0.8"/>
<text style="font-size:9.72px" transform="translate(264.28 444.76) rotate(0.03)" textLength="14.2" lengthAdjust="spacingAndGlyphs">0.6</text>
<text style="font-size:9.72px" transform="translate(368.0 534.4) rotate(-45)" x="-7.1" y="3.5" textLength="14.2" lengthAdjust="spacingAndGlyphs">0.6</text>
<line x1="280.8" y1="414.4" x2="282.5" y2="414.4" stroke="#7a7a7a" stroke-width="0.8"/>
<line x1="397.1" y1="522.6" x2="397.1" y2="524.3" stroke="#7a7a7a" stroke-width="0.8"/>
<text style="font-size:9.72px" transform="translate(264.28 417.72) rotate(0.03)" textLength="14.2" lengthAdjust="spacingAndGlyphs">0.8</text>
<text style="font-size:9.72px" transform="translate(396.7 534.4) rotate(-45)" x="-7.1" y="3.5" textLength="14.2" lengthAdjust="spacingAndGlyphs">0.8</text>
<line x1="280.8" y1="387.4" x2="282.5" y2="387.4" stroke="#7a7a7a" stroke-width="0.8"/>
<line x1="425.7" y1="522.6" x2="425.7" y2="524.3" stroke="#7a7a7a" stroke-width="0.8"/>
<text style="font-size:9.72px" transform="translate(264.28 390.68) rotate(0.03)" textLength="14.2" lengthAdjust="spacingAndGlyphs">1.0</text>
<text style="font-size:9.72px" transform="translate(425.3 534.4) rotate(-45)" x="-7.1" y="3.5" textLength="14.2" lengthAdjust="spacingAndGlyphs">1.0</text>
<path d="M282.5 522.6 L304.3 441.9 L425.7 387.4" fill="none" stroke="#2626e6" stroke-width="1.05" stroke-linejoin="round"/>
<rect x="335.5" y="510.7" width="88.0" height="9.5" rx="0.8" fill="#ffffff" stroke="#dadada" stroke-width="0.6"/>
<line x1="337.3" y1="515.2" x2="348.7" y2="515.2" stroke="#2626e6" stroke-width="1.0"/>
<text class="lg" style="font-size:6.01px" transform="translate(352.22 517.29) rotate(0.03)" textLength="68.9" lengthAdjust="spacingAndGlyphs">ROC curve (AUC = 0.7210)</text>
</g>
<g>
<text class="tt" transform="translate(512.60 373.70) rotate(0.03)" textLength="29.9" lengthAdjust="spacingAndGlyphs">TabPFN</text>
<line x1="460.4" y1="522.3" x2="604.2" y2="386.9" stroke="#8e8e8e" stroke-width="0.5" stroke-dasharray="1.5 0.5"/>
<line x1="460.40" y1="379.40" x2="460.40" y2="522.80" stroke="#9a9a9a" stroke-width="0.95"/>
<line x1="459.90" y1="379.90" x2="604.70" y2="379.90" stroke="#b4b4b4" stroke-width="1.10"/>
<line x1="604.20" y1="379.40" x2="604.20" y2="522.80" stroke="#b4b4b4" stroke-width="1.10"/>
<line x1="459.90" y1="522.30" x2="604.70" y2="522.30" stroke="#868686" stroke-width="0.85"/>
<line x1="458.7" y1="522.3" x2="460.4" y2="522.3" stroke="#7a7a7a" stroke-width="0.8"/>
<line x1="460.4" y1="522.3" x2="460.4" y2="524.0" stroke="#7a7a7a" stroke-width="0.8"/>
<text style="font-size:9.76px" transform="translate(442.72 525.94) rotate(0.03)" textLength="14.3" lengthAdjust="spacingAndGlyphs">0.0</text>
<text style="font-size:9.76px" transform="translate(460.0 534.2) rotate(-45)" x="-7.1" y="3.5" textLength="14.3" lengthAdjust="spacingAndGlyphs">0.0</text>
<line x1="458.7" y1="495.2" x2="460.4" y2="495.2" stroke="#7a7a7a" stroke-width="0.8"/>
<line x1="489.2" y1="522.3" x2="489.2" y2="524.0" stroke="#7a7a7a" stroke-width="0.8"/>
<text style="font-size:9.76px" transform="translate(442.72 498.86) rotate(0.03)" textLength="14.3" lengthAdjust="spacingAndGlyphs">0.2</text>
<text style="font-size:9.76px" transform="translate(488.8 534.2) rotate(-45)" x="-7.1" y="3.5" textLength="14.3" lengthAdjust="spacingAndGlyphs">0.2</text>
<line x1="458.7" y1="468.1" x2="460.4" y2="468.1" stroke="#7a7a7a" stroke-width="0.8"/>
<line x1="517.9" y1="522.3" x2="517.9" y2="524.0" stroke="#7a7a7a" stroke-width="0.8"/>
<text style="font-size:9.76px" transform="translate(442.72 471.78) rotate(0.03)" textLength="14.3" lengthAdjust="spacingAndGlyphs">0.4</text>
<text style="font-size:9.76px" transform="translate(517.5 534.2) rotate(-45)" x="-7.1" y="3.5" textLength="14.3" lengthAdjust="spacingAndGlyphs">0.4</text>
<line x1="458.7" y1="441.1" x2="460.4" y2="441.1" stroke="#7a7a7a" stroke-width="0.8"/>
<line x1="546.7" y1="522.3" x2="546.7" y2="524.0" stroke="#7a7a7a" stroke-width="0.8"/>
<text style="font-size:9.76px" transform="translate(442.72 444.70) rotate(0.03)" textLength="14.3" lengthAdjust="spacingAndGlyphs">0.6</text>
<text style="font-size:9.76px" transform="translate(546.3 534.2) rotate(-45)" x="-7.1" y="3.5" textLength="14.3" lengthAdjust="spacingAndGlyphs">0.6</text>
<line x1="458.7" y1="414.0" x2="460.4" y2="414.0" stroke="#7a7a7a" stroke-width="0.8"/>
<line x1="575.4" y1="522.3" x2="575.4" y2="524.0" stroke="#7a7a7a" stroke-width="0.8"/>
<text style="font-size:9.76px" transform="translate(442.72 417.62) rotate(0.03)" textLength="14.3" lengthAdjust="spacingAndGlyphs">0.8</text>
<text style="font-size:9.76px" transform="translate(575.0 534.2) rotate(-45)" x="-7.1" y="3.5" textLength="14.3" lengthAdjust="spacingAndGlyphs">0.8</text>
<line x1="458.7" y1="386.9" x2="460.4" y2="386.9" stroke="#7a7a7a" stroke-width="0.8"/>
<line x1="604.2" y1="522.3" x2="604.2" y2="524.0" stroke="#7a7a7a" stroke-width="0.8"/>
<text style="font-size:9.76px" transform="translate(442.72 390.54) rotate(0.03)" textLength="14.3" lengthAdjust="spacingAndGlyphs">1.0</text>
<text style="font-size:9.76px" transform="translate(603.8 534.2) rotate(-45)" x="-7.1" y="3.5" textLength="14.3" lengthAdjust="spacingAndGlyphs">1.0</text>
<path d="M460.4 522.3 L460.5 504.7 L461.5 495.9 L461.8 470.8 L462.8 465.8 L464.5 463.3 L465.5 457.0 L466.5 452.0 L468.0 444.3 L469.6 436.7 L471.2 434.2 L473.3 428.2 L476.2 426.7 L479.3 420.7 L483.1 418.5 L484.1 413.1 L486.9 411.4 L490.9 407.2 L494.4 405.3 L495.4 404.1 L499.4 402.2 L504.2 401.3 L505.1 399.7 L512.0 397.6 L523.3 395.7 L530.8 395.3 L533.3 392.5 L539.0 392.2 L544.0 390.3 L552.9 389.8 L558.5 389.1 L559.8 387.9 L574.2 387.8 L579.2 386.7 L604.4 386.5" fill="none" stroke="#2626e6" stroke-width="1.05" stroke-linejoin="round"/>
<rect x="513.6" y="510.3" width="88.4" height="9.6" rx="0.8" fill="#ffffff" stroke="#dadada" stroke-width="0.6"/>
<line x1="515.4" y1="514.9" x2="526.8" y2="514.9" stroke="#2626e6" stroke-width="1.0"/>
<text class="lg" style="font-size:6.04px" transform="translate(530.41 516.97) rotate(0.03)" textLength="69.2" lengthAdjust="spacingAndGlyphs">ROC curve (AUC = 0.8938)</text>
</g>
</svg>
</body></html>
